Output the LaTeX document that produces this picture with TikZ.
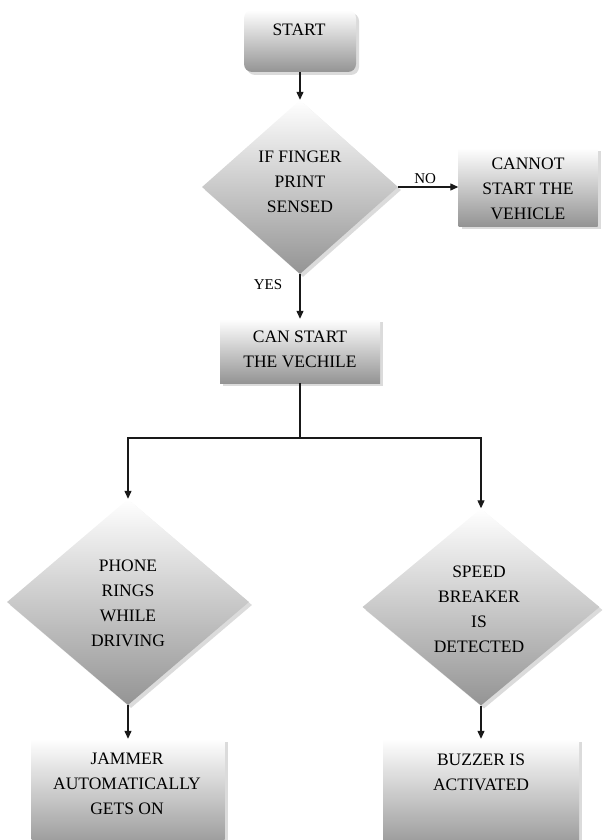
\documentclass[tikz,border=0pt]{standalone}
\usepackage{fontspec}
\setmainfont{Liberation Serif}
\usetikzlibrary{shapes.geometric,shadows,arrows.meta}
\begin{document}
\begin{tikzpicture}[x=1pt,y=-1pt,
  box/.style={draw=none, top color=white, bottom color=black!42, inner sep=0pt,
    drop shadow={shadow xshift=3pt, shadow yshift=-3pt, fill=black!14, opacity=1}},
  dia/.style={box, shape=diamond, inner sep=0pt},
  txt/.style={font=\fontsize{17.5}{25}\selectfont, align=center, inner sep=0pt, text=black},
  lbl/.style={font=\fontsize{15}{18}\selectfont, inner sep=0pt, text=black},
  ln/.style={draw=black!90, line width=1.2pt},
  arr/.style={ln, -{Triangle[length=8pt,width=7pt]}}]
\path[use as bounding box] (0,0) rectangle (606,840);
\clip (0,0) rectangle (606,840);

% shapes
\node[box, rounded corners=8pt, minimum width=112pt, minimum height=62pt] (start) at (300,41) {};
\node[dia, minimum width=196pt, minimum height=174pt] (d1) at (300,187) {};
\node[box, minimum width=139pt, minimum height=78pt] (cannot) at (528,187) {};
\node[box, minimum width=160pt, minimum height=64pt] (can) at (300,351) {};
\node[dia, minimum width=242pt, minimum height=206pt] (d2) at (128,602) {};
\node[dia, minimum width=237pt, minimum height=197pt] (d3) at (481,607) {};
\node[box, minimum width=193pt, minimum height=112pt] (jam) at (128,795) {};
\node[box, minimum width=196pt, minimum height=112pt] (buz) at (481,795) {};

% texts
\node[txt] (tstart) at (299,30) {START};
\node[txt] (td1) at (300,182) {IF FINGER\\PRINT\\SENSED};
\node[txt] (tcannot) at (528,189) {CANNOT\\START THE\\VEHICLE};
\node[txt] (tcan) at (300,349) {CAN START\\THE VECHILE};
\node[txt] (td2) at (128,603) {PHONE\\RINGS\\WHILE\\DRIVING};
\node[txt] (td3) at (479,609) {SPEED\\BREAKER\\IS\\DETECTED};
\node[txt] (tjam) at (127,784) {JAMMER\\AUTOMATICALLY\\GETS ON};
\node[txt] (tbuz) at (481,772) {BUZZER IS\\ACTIVATED};

% connectors
\coordinate (j) at (300,438);
\draw[arr] (start.south) -- (d1.north);
\draw[arr] (d1.east) -- node[lbl, above=3pt, pos=0.45] (no) {NO} (cannot.west);
\draw[arr] (d1.south) -- (can.north);
\node[lbl] (yes) at (268,285) {YES};
\draw[ln] (can.south) -- (j);
\draw[arr] (j) -| (d2.north);
\draw[arr] (j) -| (d3.north);
\draw[arr] (d2.south) -- (jam.north);
\draw[arr] (d3.south) -- (buz.north);
\end{tikzpicture}
\end{document}
